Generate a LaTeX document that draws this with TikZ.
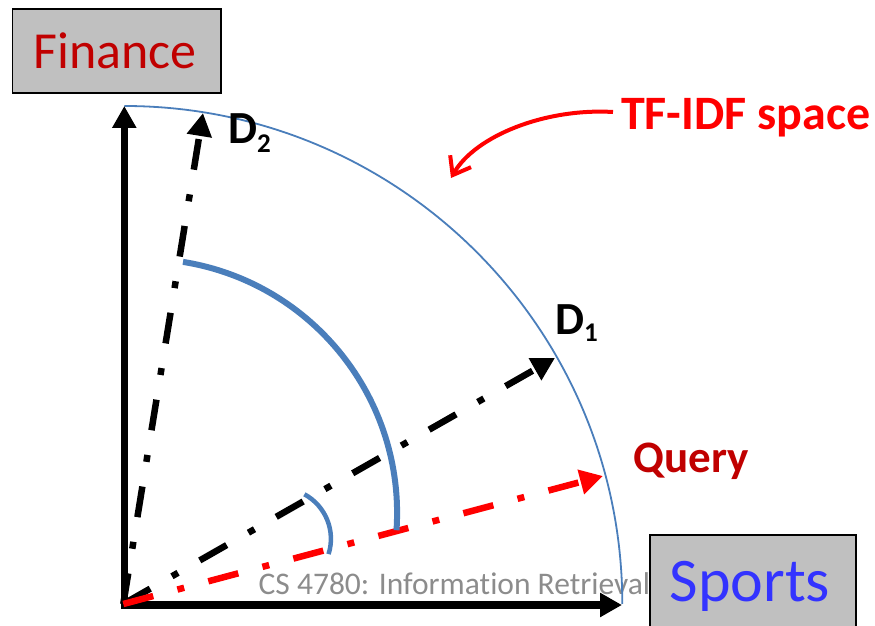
\documentclass[tikz,border=0pt]{standalone}
\usepackage{fontspec}
\setmainfont{Carlito}[Ligatures=NoCommon]
\usetikzlibrary{arrows.meta,calc}
\definecolor{boxgray}{HTML}{C0C0C0}
\definecolor{darkred}{HTML}{C00000}
\definecolor{sportblue}{HTML}{3333FF}
\definecolor{arcblue}{HTML}{4A7EBB}
\definecolor{footgray}{HTML}{8C8C8C}
\begin{document}
\begin{tikzpicture}[x=1pt,y=1pt,
  axis/.style={line width=7.5pt, -{Triangle[length=22pt,width=23pt]}},
  vec/.style={line width=6.5pt, dash pattern=on 31pt off 25pt on 7pt off 25pt,
              -{Triangle[length=23pt,width=24pt]}},
  catbox/.style={draw=black, line width=1.7pt, fill=boxgray, inner sep=0pt, anchor=north west},
  lbl/.style={inner sep=0pt, anchor=base west},
]
\clip (0,0) rectangle (875,626);

% footer line of the slide
\node[lbl, text=footgray, font=\fontsize{31.5}{36}\selectfont] (footer) at (258.5,31)
  {CS 4780: Information Retrieval};

% category boxes
\node[catbox, minimum width=208.3pt, minimum height=84pt] (finbox) at (11.7,617.7) {};
\node[inner sep=0pt, anchor=base, text=darkred, font=\fontsize{52}{58}\selectfont]
  (fintext) at (115,557.7) {Finance};
\node[catbox, minimum width=205.7pt, minimum height=120pt] (spbox) at (649.3,92) {};
\node[inner sep=0pt, anchor=base, text=sportblue, font=\fontsize{62}{70}\selectfont]
  (sptext) at (750,24.3) {Sports};

% key points
\coordinate (O) at (123.3,22);
\coordinate (yStart) at (124.3,17.5);
\coordinate (yEnd) at (124.3,520);
\coordinate (xStart) at (121,21);
\coordinate (xEnd) at (622,21);
\coordinate (tipD2) at ($(O)+(80.78:497.4)$);
\coordinate (tipD1) at ($(O)+(29.68:496.9)$);
\coordinate (tipQ) at ($(O)+(14.94:496.5)$);

% boundary of the space
\draw[arcblue, line width=1.8pt] (yEnd) arc[start angle=90, end angle=0, radius=498];

% axes
\draw[axis] (yStart) -- (yEnd);
\draw[axis] (xStart) -- (xEnd);

% document and query vectors
\draw[vec, black] (O) -- (tipD2);
\draw[vec, black] (O) -- (tipD1);
\draw[vec, red] (O) -- (tipQ);

% angle marks
\draw[arcblue, line width=6pt] (183,364.1) arc[start angle=80.86, end angle=-3.85, radius=254.5];
\draw[arcblue, line width=4.5pt] (304.4,131.7) arc[start angle=61.5, end angle=-17.5, radius=50.7];

% labels
\node[lbl, font=\fontsize{46}{52}\selectfont\bfseries] (labD1) at (555,291)
  {D\raisebox{-7pt}{\fontsize{27}{30}\selectfont 1}};
\node[lbl, font=\fontsize{46}{52}\selectfont\bfseries] (labD2) at (228,482.7)
  {D\raisebox{-9pt}{\fontsize{27}{30}\selectfont 2}};
\node[inner sep=0pt, anchor=base, text=darkred, font=\fontsize{45}{52}\selectfont\bfseries]
  (labQ) at (691,153.7) {Query};
\node[inner sep=0pt, anchor=base, text=red, font=\fontsize{48}{54}\selectfont\bfseries]
  (labTF) at (745.7,496) {TF-IDF space};

% pointer to the space
\coordinate (tfStart) at (613,514);
\coordinate (tfEnd) at (451,448);
\draw[red, line width=4pt, -{Straight Barb[length=16pt,width=24pt]}]
  (tfStart) .. controls (545,518) and (475,490) .. (tfEnd);
\end{tikzpicture}
\end{document}
